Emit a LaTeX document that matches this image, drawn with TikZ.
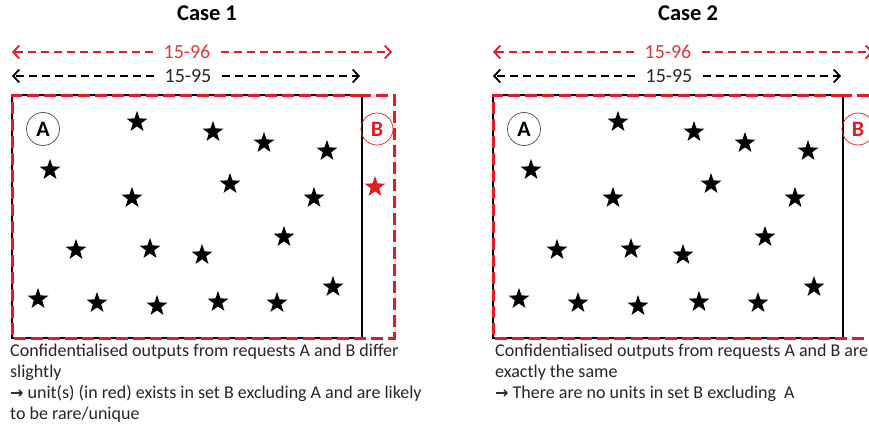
\documentclass[tikz,border=0pt]{standalone}
\usepackage{fontspec}
\setmainfont{Carlito}
\newfontfamily\symfont{DejaVu Sans}
\usetikzlibrary{shapes.geometric,arrows.meta}
\definecolor{mred}{RGB}{228,28,34}
\definecolor{lred}{RGB}{222,58,62}
\definecolor{txt}{RGB}{38,38,38}
\newcommand{\notearrow}{{\symfont\bfseries\fontsize{16}{16}\selectfont→}\ }
\tikzset{
  starmark/.style={star,star points=5,star point ratio=2.5,minimum size=22pt,inner sep=0pt,fill=black,draw=none},
  redstar/.style={starmark,fill=mred},
  setA/.style={draw=black,line width=1.1pt},
  setB/.style={draw=mred,line width=3pt,dash pattern=on 12pt off 5pt},
  dimline/.style={line width=1.8pt,dash pattern=on 8pt off 5pt,-{Straight Barb[length=6pt,width=13pt,line width=1.8pt]}},
  dimred/.style={dimline,draw=mred},
  dimblack/.style={dimline,draw=black},
  dimlabel/.style={font=\fontsize{20}{24}\selectfont,inner xsep=10pt,inner ysep=0pt},
  casetitle/.style={font=\fontsize{22.5}{26}\selectfont\bfseries,text=black},
  circA/.style={circle,draw=black!70,line width=0.7pt,minimum size=33pt,inner sep=0pt,font=\fontsize{22}{24}\selectfont\bfseries,fill=white},
  circB/.style={circle,draw=mred,line width=0.7pt,minimum size=32pt,inner sep=0pt,font=\fontsize{22}{24}\selectfont\bfseries,text=mred},
  note/.style={anchor=base west,inner sep=0pt,font=\fontsize{18}{21}\selectfont,text=txt}
}
\begin{document}
\begin{tikzpicture}[x=1pt,y=-1pt]
\clip (0,0) rectangle (869,436);
\fill[white] (0,0) rectangle (869,436);

% one panel: set A (black box) inside set B (red dashed box)
\foreach \ox/\k in {0/1,481/2}{
  \begin{scope}[shift={(\ox,0)}]
    \node[casetitle] (title\k) at (207,13) {Case \k};

    % width of set B
    \coordinate (rl\k) at (12,52);
    \coordinate (rr\k) at (392,52);
    \node[dimlabel,text=lred] (lab96\k) at (187,52) {15-96};
    \draw[dimred] (lab96\k.west) -- (rl\k);
    \draw[dimred] (lab96\k.east) -- (rr\k);

    % width of set A
    \coordinate (bl\k) at (12,76);
    \coordinate (br\k) at (360,76);
    \node[dimlabel,text=txt] (lab95\k) at (188,76) {15-95};
    \draw[dimblack] (lab95\k.west) -- (bl\k);
    \draw[dimblack] (lab95\k.east) -- (br\k);

    \draw[setA] (12,95) rectangle (362,338);
    \node[circB] (B\k) at (377,129) {B};
    \draw[setB] (362,95) -- (12,95) -- (12,338) -- (394,338) -- (394,95) -- cycle;
    \node[circA] (A\k) at (43,129) {A};

    \foreach \sx/\sy [count=\n] in {137/122,213/132,264/143,327/151,50/170,230/184,
        132/198,314/198,284/237,76/250,150/249,202/255,38/299,97/303,157/306,
        218/302,277/303,333/287}{
      \node[starmark] (s\k-\n) at (\sx,\sy) {};
    }
  \end{scope}
}

% unit present only in set B
\node[redstar] (extra) at (375,187) {};

% captions
\node[note] (c1a) at (10,356) {Confidentialised outputs from requests A and B differ};
\node[note] (c1b) at (10,377) {slightly};
\node[note] (c1c) at (10,398) {\notearrow unit(s) (in red) exists in set B excluding A and are likely};
\node[note] (c1d) at (10,419) {to be rare/unique};

\node[note] (c2a) at (495,356) {Confidentialised outputs from requests A and B are};
\node[note] (c2b) at (495,377) {exactly the same};
\node[note] (c2c) at (495,398) {\notearrow There are no units in set B excluding\ \ A};
\end{tikzpicture}
\end{document}
